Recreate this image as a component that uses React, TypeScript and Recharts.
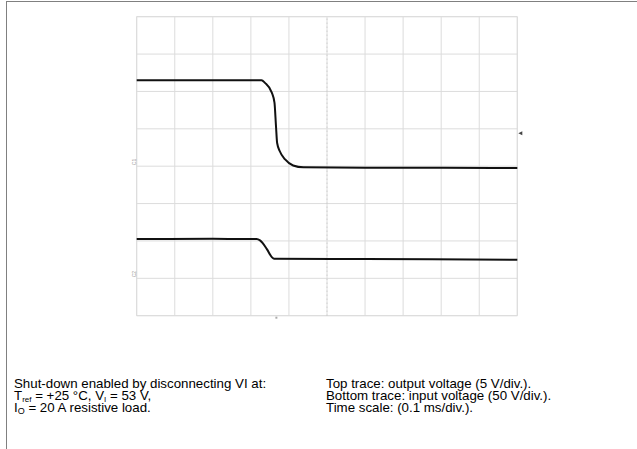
import React from "react";
import { LineChart, Line, XAxis, YAxis, CartesianGrid, ReferenceLine, ReferenceDot } from "recharts";

// time in ms (0.1 ms/div), output voltage in V (5 V/div), input voltage in V (50 V/div)
const outTime = [0, 0.328, 0.337, 0.355, 0.362, 0.366, 0.369, 0.376, 0.39, 0.411, 0.438, 0.6, 0.8, 1.0];
const outVolt = [11.5, 11.5, 11.15, 9.85, 8.5, 5.35, 3.1, 2.0, 0.9, 0.1, -0.15, -0.2, -0.2, -0.25];
const inTime = [0, 0.2, 0.315, 0.324, 0.342, 0.355, 0.361, 0.6, 1.0];
const inVolt = [52.5, 52.8, 52.5, 50.7, 39.1, 28.4, 26.2, 25.8, 24.9];

const OUT_SCALE = 5; // V/div
const IN_SCALE = 50; // V/div
const IN_OFFSET = -3; // div (ground marker of channel 2)
const TRIGGER_LEVEL = 4.4; // V on channel 1
const TRIGGER_TIME = 0.367; // ms

const xTicks = [0, 0.1, 0.2, 0.3, 0.4, 0.5, 0.6, 0.7, 0.8, 0.9, 1.0];
const yTicks = [-4, -3, -2, -1, 0, 1, 2, 3, 4];

const outData = outTime.map((t, i) => ({ t, y: outVolt[i] / OUT_SCALE }));
const inData = inTime.map((t, i) => ({ t, y: inVolt[i] / IN_SCALE + IN_OFFSET }));

const font = "'Liberation Sans', Arial, sans-serif";

const Trig = (props: any) => {
  const { cx, cy } = props;
  return <path d={`M${cx + 1},${cy} L${cx + 5},${cy - 2} L${cx + 5},${cy + 2} Z`} fill="#444" />;
};
const TimeMark = (props: any) => {
  const { cx, cy } = props;
  return <rect x={cx - 1} y={cy + 1} width={2} height={2} fill="#aaa" />;
};
const GndMark = (label: string) => (props: any) => {
  const { cx, cy } = props;
  return (
    <text x={cx - 1} y={cy - 1} fontSize={5} fill="#999" fontFamily={font} transform={`rotate(-90 ${cx - 1} ${cy - 1})`}>
      {label}
    </text>
  );
};

const sub: React.CSSProperties = { fontSize: 8, verticalAlign: "-2px", lineHeight: 0 };

export default function App() {
  return (
    <div style={{ position: "absolute", left: 0, top: 0, width: 637, height: 449, background: "#fff", fontFamily: font }}>
      <div style={{ position: "absolute", left: 6, top: 1, width: 631, height: 0, borderTop: "1.5px solid #808080" }} />
      <div style={{ position: "absolute", left: 6, top: 1, width: 0, height: 448, borderLeft: "1.5px solid #808080" }} />
      <div style={{ position: "absolute", left: 0, top: 0 }}>
        <LineChart width={637} height={449} margin={{ top: 16.7, left: 136.7, right: 119.7, bottom: 133.3 }}>
          <XAxis type="number" dataKey="t" domain={[0, 1]} ticks={xTicks} hide allowDuplicatedCategory={false} />
          <YAxis type="number" domain={[-4, 4]} ticks={yTicks} hide />
          <CartesianGrid stroke="#dcdcdc" strokeWidth={1} />
          <ReferenceLine x={0} stroke="#dcdcdc" />
          <ReferenceLine x={1} stroke="#dcdcdc" />
          <ReferenceLine y={4} stroke="#dcdcdc" />
          <ReferenceLine y={-4} stroke="#dcdcdc" />
          <ReferenceLine x={0.5} stroke="#c4c4c4" strokeDasharray="1 3" />
          <Line data={outData} dataKey="y" type="monotone" stroke="#111" strokeWidth={2} dot={false} isAnimationActive={false} />
          <Line data={inData} dataKey="y" type="monotone" stroke="#111" strokeWidth={2} dot={false} isAnimationActive={false} />
          <ReferenceDot x={1} y={TRIGGER_LEVEL / OUT_SCALE} shape={Trig} />
          <ReferenceDot x={TRIGGER_TIME} y={-4} shape={TimeMark} />
          <ReferenceDot x={0} y={0} shape={GndMark("C1")} />
          <ReferenceDot x={0} y={IN_OFFSET} shape={GndMark("C2")} />
        </LineChart>
      </div>
      <div style={{ position: "absolute", left: 14, top: 378, fontSize: 13.3, lineHeight: "12px", color: "#000", whiteSpace: "nowrap" }}>
        <div>Shut-down enabled by disconnecting VI at:</div>
        <div>T<sub style={sub}>ref</sub> = +25 °C, V<sub style={sub}>I</sub> = 53 V,</div>
        <div>I<sub style={{ ...sub, fontSize: 9 }}>O</sub> = 20 A resistive load.</div>
      </div>
      <div style={{ position: "absolute", left: 326, top: 378, fontSize: 13.3, lineHeight: "12px", color: "#000", whiteSpace: "nowrap" }}>
        <div>Top trace: output voltage (5 V/div.).</div>
        <div>Bottom trace: input voltage (50 V/div.).</div>
        <div>Time scale: (0.1 ms/div.).</div>
      </div>
    </div>
  );
}
